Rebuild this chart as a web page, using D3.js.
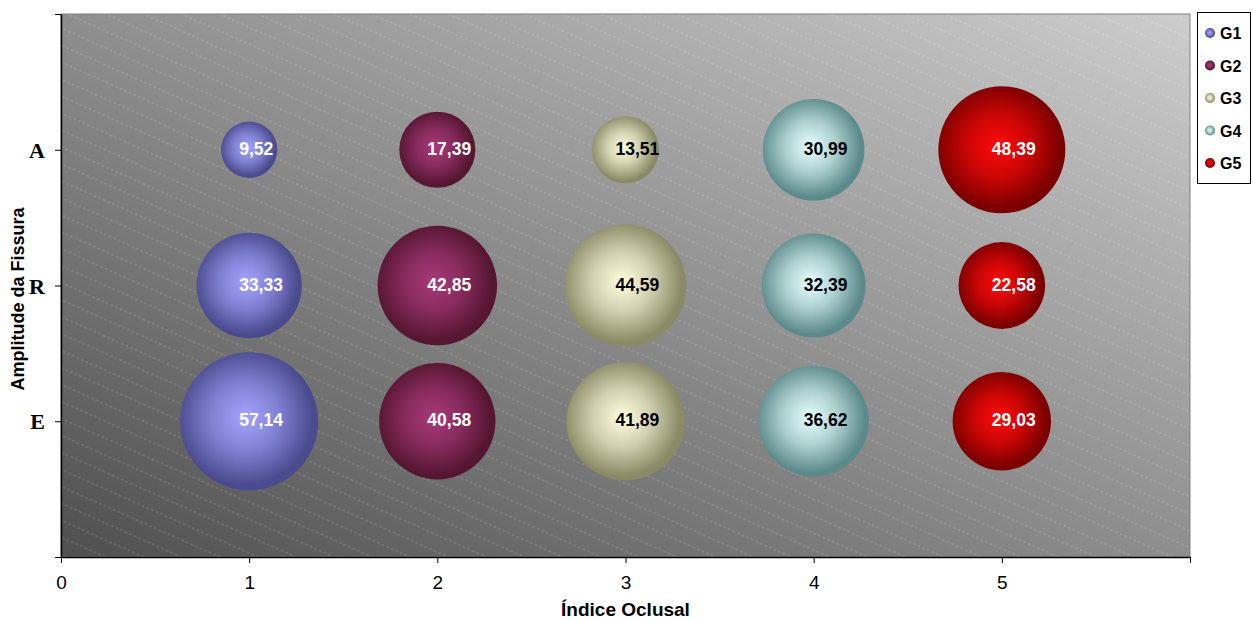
<!DOCTYPE html>
<html><head><meta charset="utf-8">
<script src="https://cdn.jsdelivr.net/npm/d3@7"></script>
<style>body{margin:0;background:#fff}svg{display:block}</style>
</head><body>
<svg id="c" width="1253" height="622"></svg>
<script>
const series = ["G1","G2","G3","G4","G5"];
const xTicks = [0,1,2,3,4,5,6];
const xTickLabels = ["0","1","2","3","4","5",""];
const yCats = ["E","R","A"];
const yVals = [1,2,3];
const g1 = [9.52, 33.33, 57.14];   // A, R, E
const g2 = [17.39, 42.85, 40.58];
const g3 = [13.51, 44.59, 41.89];
const g4 = [30.99, 32.39, 36.62];
const g5 = [48.39, 22.58, 29.03];
const rowCats = ["A","R","E"];
const seriesValues = [g1,g2,g3,g4,g5];
const seriesX = [1,2,3,4,5];
const colors = [
  {c:"#a4a4ff", e:"#4a4a8e", t:"#fff"},
  {c:"#a8397a", e:"#551631", t:"#fff"},
  {c:"#ffffe0", e:"#8a8a66", t:"#000"},
  {c:"#e6ffff", e:"#5c8a8a", t:"#000"},
  {c:"#ff0a0a", e:"#7a0000", t:"#fff"}
];

const svg = d3.select("#c");
const L=61, R=1190, T=14, B=557;
const x = d3.scaleLinear().domain([0,6]).range([L,R]);
const y = d3.scaleLinear().domain([0,4]).range([B,T]);
const r = d3.scaleSqrt().domain([0,57.14]).range([0,69]);
const yMap = {E:1,R:2,A:3};

const defs = svg.append("defs");
const bg = defs.append("linearGradient").attr("id","bg").attr("x1",0).attr("y1",1).attr("x2",1).attr("y2",0);
bg.append("stop").attr("offset","0%").attr("stop-color","#4f4f4f");
bg.append("stop").attr("offset","100%").attr("stop-color","#cdcdcd");
const pat = defs.append("pattern").attr("id","hatch").attr("patternUnits","userSpaceOnUse")
  .attr("width",60).attr("height",15.5).attr("patternTransform","rotate(24)");
pat.append("line").attr("x1",0).attr("x2",60).attr("y1",1).attr("y2",1)
  .attr("stroke","#fff").attr("stroke-opacity",0.3).attr("stroke-width",0.7).attr("stroke-dasharray","3,2");
colors.forEach((c,i)=>{
  const g = defs.append("radialGradient").attr("id","bub"+i).attr("cx","47%").attr("cy","47%").attr("r","55%");
  g.append("stop").attr("offset","0%").attr("stop-color",c.c);
  g.append("stop").attr("offset","45%").attr("stop-color",d3.interpolateRgb(c.c,c.e)(0.4));
  g.append("stop").attr("offset","90%").attr("stop-color",c.e);
  g.append("stop").attr("offset","100%").attr("stop-color",c.e);
});

svg.append("rect").attr("x",L).attr("y",T).attr("width",R-L).attr("height",B-T).attr("fill","url(#bg)");
svg.append("rect").attr("x",L).attr("y",T).attr("width",R-L).attr("height",B-T).attr("fill","url(#hatch)");
svg.append("rect").attr("x",L).attr("y",T).attr("width",R-L).attr("height",B-T).attr("fill","none").attr("stroke","#808080").attr("stroke-width",1);

// bubbles
const pts = [];
seriesValues.forEach((vals,si)=>vals.forEach((v,ri)=>pts.push({si, x:seriesX[si], cat:rowCats[ri], v})));
const gp = svg.append("g");
gp.selectAll("circle").data(pts).join("circle")
  .attr("cx",d=>x(d.x)).attr("cy",d=>y(yMap[d.cat])).attr("r",d=>r(d.v))
  .attr("fill",d=>`url(#bub${d.si})`);
gp.selectAll("text").data(pts).join("text")
  .attr("x",d=>x(d.x)-10).attr("y",d=>y(yMap[d.cat])+5)
  .attr("font-family","Liberation Sans, Arial, sans-serif").attr("font-weight","bold").attr("font-size",17.5)
  .attr("fill",d=>colors[d.si].t)
  .text(d=>d.v.toFixed(2).replace(".",","));

// axes
const xa = svg.append("g").attr("transform",`translate(0,${B})`)
  .call(d3.axisBottom(x).tickValues(xTicks).tickFormat((d,i)=>xTickLabels[i]).tickSize(6).tickSizeOuter(0).tickPadding(13));
xa.select(".domain").attr("stroke","#000").attr("stroke-width",1.5);
xa.selectAll("text").attr("font-family","Liberation Sans, Arial, sans-serif").attr("font-size",19).attr("fill","#000");
const ya = svg.append("g").attr("transform",`translate(${L},0)`)
  .call(d3.axisLeft(y).tickValues([0,1,2,3,4]).tickFormat(d=>{const i=yVals.indexOf(d);return i>=0?yCats[i]:"";}).tickSize(6).tickSizeOuter(0).tickPadding(10));
ya.select(".domain").attr("stroke","#000").attr("stroke-width",1.5);
ya.selectAll("text").attr("font-family","Liberation Serif, Times New Roman, serif").attr("font-weight","bold").attr("font-size",22).attr("fill","#000").attr("dy","0.35em");

svg.append("text").attr("x",(L+R)/2).attr("y",616).attr("text-anchor","middle")
  .attr("font-family","Liberation Sans, Arial, sans-serif").attr("font-weight","bold").attr("font-size",19).text("Índice Oclusal");
svg.append("text").attr("transform",`translate(24,299) rotate(-90)`).attr("text-anchor","middle")
  .attr("font-family","Liberation Sans, Arial, sans-serif").attr("font-weight","bold").attr("font-size",18).text("Amplitude da Fissura");

// legend
const lg = svg.append("g");
lg.append("rect").attr("x",1197.5).attr("y",12.5).attr("width",53).attr("height",171).attr("fill","#fff").attr("stroke","#000").attr("stroke-width",1);
series.forEach((s,i)=>{
  const yy = 33 + i*32.5;
  lg.append("circle").attr("cx",1210).attr("cy",yy).attr("r",5).attr("fill",`url(#bub${i})`);
  lg.append("text").attr("x",1220).attr("y",yy+6).attr("font-family","Liberation Sans, Arial, sans-serif")
    .attr("font-weight","bold").attr("font-size",16).text(s);
});
</script>
</body></html>
